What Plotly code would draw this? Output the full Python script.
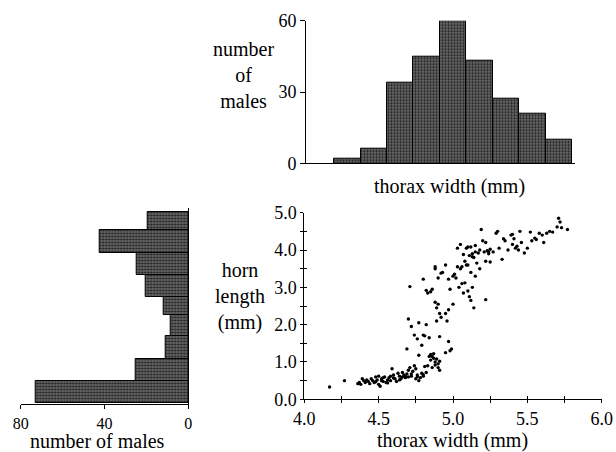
import plotly.graph_objects as go

# ---------------- data ----------------
# top histogram: thorax width bins (mm) and counts
thorax_bin_centers = [4.289, 4.467, 4.644, 4.822, 5.000, 5.178, 5.356, 5.533, 5.711]
thorax_bin_width = 0.1778
thorax_counts = [2, 6, 34, 45, 60, 43, 27, 21, 10]

# left histogram: horn length bins (mm) and counts (bottom to top)
horn_bin_edges = [-0.11, 0.49, 1.09, 1.70, 2.27, 2.74, 3.33, 3.93, 4.54, 5.01]
horn_counts = [72.7, 25.3, 10.7, 8.4, 11.9, 20.4, 24.7, 42.5, 19.3]

# scatter: thorax width (mm) vs horn length (mm)
thorax_width = [
    4.17, 4.27, 4.36, 4.37, 4.38, 4.39, 4.40, 4.41, 4.42, 4.43, 4.45, 4.46, 4.47, 4.48,
    4.49, 4.50, 4.50, 4.51, 4.52, 4.53, 4.54, 4.55, 4.56, 4.57, 4.58, 4.59, 4.60, 4.61,
    4.62, 4.63, 4.64, 4.65, 4.66, 4.67, 4.68, 4.69, 4.70, 4.70, 4.71, 4.72, 4.73, 4.74,
    4.75, 4.75, 4.76, 4.77, 4.78, 4.79, 4.80, 4.81, 4.82, 4.83, 4.84, 4.85, 4.86, 4.87,
    4.88, 4.88, 4.89, 4.90, 4.90, 4.91, 4.91, 4.44, 4.48, 4.53, 4.56, 4.60, 4.64, 4.68,
    4.72, 4.76, 4.80, 4.52, 4.58, 4.66,
    4.69, 4.70, 4.72, 4.74, 4.76, 4.77, 4.77, 4.79, 4.80, 4.81, 4.82, 4.84, 4.85, 4.86,
    4.87, 4.88, 4.89, 4.89, 4.90, 4.91, 4.91, 4.92, 4.95, 4.96, 4.97, 4.98, 4.99, 4.95,
    4.97,
    4.71, 4.80, 4.82, 4.83, 4.85, 4.86, 4.88, 4.88, 4.90, 4.92, 4.93, 4.95, 4.97, 4.98,
    5.00, 5.00, 5.01, 5.02, 5.03, 5.04, 5.05, 5.06, 5.07, 5.08, 5.10, 5.11, 5.12, 5.13,
    5.14, 5.10, 5.12, 5.15, 5.22,
    5.05, 5.06, 5.08, 5.09, 5.10, 5.11, 5.12, 5.13, 5.14, 5.15, 5.15, 5.16, 5.17, 5.18,
    5.19, 5.20, 5.21, 5.22, 5.22, 5.23, 5.24, 5.25, 5.25, 5.27, 5.29, 5.30, 5.31, 5.33,
    5.34, 5.35, 5.37, 5.39, 5.40, 5.40, 5.41, 5.42, 5.43, 5.44, 5.45, 5.46, 5.48, 5.50,
    5.52, 5.53, 5.55, 5.56, 5.58, 5.60, 5.61, 5.63, 5.65, 5.67, 5.70, 5.71, 5.72, 5.73,
    5.77, 5.07, 5.13, 5.18, 5.24, 5.03, 5.09,
]
horn_length = [
    0.33, 0.50, 0.42, 0.45, 0.40, 0.55, 0.50, 0.45, 0.52, 0.48, 0.55, 0.50, 0.45, 0.60,
    0.52, 0.40, 0.62, 0.35, 0.55, 0.48, 0.60, 0.45, 0.52, 0.58, 0.50, 0.82, 0.65, 0.55,
    0.48, 0.70, 0.62, 0.55, 0.72, 0.65, 0.58, 0.68, 0.60, 0.78, 0.85, 0.62, 0.75, 0.90,
    0.55, 0.82, 0.65, 0.50, 0.58, 0.70, 0.62, 0.88, 0.72, 0.90, 1.15, 1.05, 0.85, 1.10,
    1.00, 0.92, 1.08, 0.95, 0.85, 0.78, 1.02, 0.42, 0.47, 0.58, 0.44, 0.57, 0.52, 0.62,
    0.68, 0.60, 0.66, 0.50, 0.62, 0.60,
    1.35, 2.15, 1.95, 1.72, 1.62, 1.18, 2.05, 1.45, 1.72, 1.70, 2.00, 1.65, 1.20, 1.15,
    1.22, 2.60, 2.45, 2.10, 2.55, 1.68, 2.30, 2.20, 1.25, 2.10, 1.55, 1.30, 1.35, 2.30,
    2.40,
    3.02, 3.22, 2.92, 2.85, 2.88, 2.95, 3.55, 3.50, 3.25, 3.38, 3.40, 3.60, 3.22, 2.95,
    3.30, 2.55, 3.35, 3.25, 3.55, 3.00, 3.50, 3.10, 2.85, 3.12, 2.90, 2.75, 2.65, 3.00,
    2.45, 3.60, 3.40, 3.30, 2.67,
    4.15, 3.55, 3.70, 4.05, 4.08, 3.85, 4.08, 3.90, 3.80, 4.12, 3.95, 3.65, 3.92, 3.50,
    4.55, 4.25, 3.95, 4.20, 3.70, 3.98, 3.90, 4.02, 3.68, 3.95, 4.45, 4.50, 4.05, 3.75,
    4.30, 4.25, 4.00, 4.40, 4.42, 4.15, 4.30, 4.05, 4.10, 4.00, 4.50, 4.20, 3.92, 4.05,
    4.48, 4.25, 4.32, 4.28, 4.45, 4.40, 4.20, 4.45, 4.50, 4.48, 4.62, 4.85, 4.75, 4.60,
    4.55, 3.88, 3.82, 4.00, 3.95, 4.05, 3.60,
]

count_ticks_top = [0, 30, 60]
count_ticks_left = [80, 40, 0]

# ---------------- layout helpers ----------------
W, H = 616, 452
FONT = "Liberation Serif, Times New Roman, serif"


def fx(p):
    return p / W


def fy(p):
    return 1 - p / H


bar_marker = dict(color="#555555", line=dict(color="black", width=1),
                  pattern=dict(shape=".", fgcolor="#1a1a1a", bgcolor="#666666",
                               size=3, solidity=0.4))

horn_centers = [(a + b) / 2 for a, b in zip(horn_bin_edges[:-1], horn_bin_edges[1:])]
horn_widths = [b - a for a, b in zip(horn_bin_edges[:-1], horn_bin_edges[1:])]

fig = go.Figure()

# top histogram
fig.add_trace(go.Bar(x=thorax_bin_centers, y=thorax_counts, width=thorax_bin_width,
                     marker=bar_marker, xaxis="x", yaxis="y", showlegend=False))
# left histogram
fig.add_trace(go.Bar(y=horn_centers, x=horn_counts, width=horn_widths, orientation="h",
                     marker=bar_marker, xaxis="x2", yaxis="y2", showlegend=False))
# scatter
fig.add_trace(go.Scatter(x=thorax_width, y=horn_length, mode="markers",
                         marker=dict(color="black", size=3.4),
                         xaxis="x3", yaxis="y3", showlegend=False))
# invisible trace for the overlay (tick-crossing) axes
fig.add_trace(go.Scatter(x=[4.0], y=[0.0], mode="markers", marker=dict(opacity=0),
                         xaxis="x4", yaxis="y4", showlegend=False, hoverinfo="skip"))

axis_common = dict(showgrid=False, zeroline=False, linecolor="black", linewidth=1,
                   tickcolor="black", tickwidth=1, automargin=False,
                   tickfont=dict(family=FONT, size=18, color="black"))

sc_x_ticks = [4.0, 4.25, 4.5, 4.75, 5.0, 5.25, 5.5, 5.75, 6.0]
sc_x_text = ["4.0", "", "4.5", "", "5.0", "", "5.5", "", "6.0"]
sc_y_ticks = [0.0, 0.5, 1.0, 1.5, 2.0, 2.5, 3.0, 3.5, 4.0, 4.5, 5.0]
sc_y_text = ["0.0", "", "1.0", "", "2.0", "", "3.0", "", "4.0", "", "5.0"]

sc_xdom = [fx(304.3), fx(601.7)]
sc_ydom = [fy(399.3), fy(212.7)]

fig.update_layout(
    template="none",
    width=W, height=H, margin=dict(l=0, r=0, t=0, b=0, pad=0, autoexpand=False),
    paper_bgcolor="white", plot_bgcolor="rgba(0,0,0,0)",
    bargap=0, showlegend=False,
    font=dict(family=FONT, color="black"),
    # top histogram
    xaxis=dict(axis_common, domain=[fx(306), fx(575)], range=[4.011, 5.82],
               anchor="y", showline=True, ticks="", showticklabels=False),
    yaxis=dict(axis_common, domain=[fy(163.3), fy(20.7)], range=[0, 60],
               anchor="x", showline=True, ticks="outside", ticklen=5,
               tickvals=count_ticks_top, ticktext=[str(v) for v in count_ticks_top]),
    # left histogram
    xaxis2=dict(axis_common, domain=[fx(20.7), fx(188.3)], range=[80, 0],
                anchor="y2", showline=True, ticks="outside", ticklen=4,
                tickfont=dict(family=FONT, size=16, color="black"),
                tickvals=count_ticks_left, ticktext=[str(v) for v in count_ticks_left]),
    yaxis2=dict(axis_common, domain=[fy(404.3), fy(208)], range=[-0.134, 5.129],
                anchor="x2", side="right", showline=True, ticks="",
                showticklabels=False),
    # scatter
    xaxis3=dict(axis_common, domain=sc_xdom, range=[4.0, 6.0], anchor="y3",
                showline=True, ticks="outside", ticklen=3,
                tickvals=sc_x_ticks, ticktext=sc_x_text),
    yaxis3=dict(axis_common, domain=sc_ydom, range=[0.0, 5.0], anchor="x3",
                showline=True, ticks="outside", ticklen=3,
                tickvals=sc_y_ticks, ticktext=sc_y_text),
    xaxis4=dict(axis_common, domain=sc_xdom, range=[4.0, 6.0], anchor="y4",
                overlaying="x3", showline=False, ticks="inside", ticklen=3,
                tickvals=sc_x_ticks, showticklabels=False),
    yaxis4=dict(axis_common, domain=sc_ydom, range=[0.0, 5.0], anchor="x4",
                overlaying="y3", showline=False, ticks="inside", ticklen=3,
                tickvals=sc_y_ticks, showticklabels=False),
)

title_font = dict(family=FONT, size=20, color="black")
annots = [
    ("number<br>of<br>males", 243, 75),
    ("thorax width (mm)", 449, 187),
    ("horn<br>length<br>(mm)", 240, 296),
    ("number of males", 97, 441),
    ("thorax width (mm)", 452, 440),
]
for text, x, y in annots:
    fig.add_annotation(text=text, x=fx(x), y=fy(y), xref="paper", yref="paper",
                       showarrow=False, xanchor="center", yanchor="middle",
                       font=title_font, align="center")

fig.write_html("out.html")
